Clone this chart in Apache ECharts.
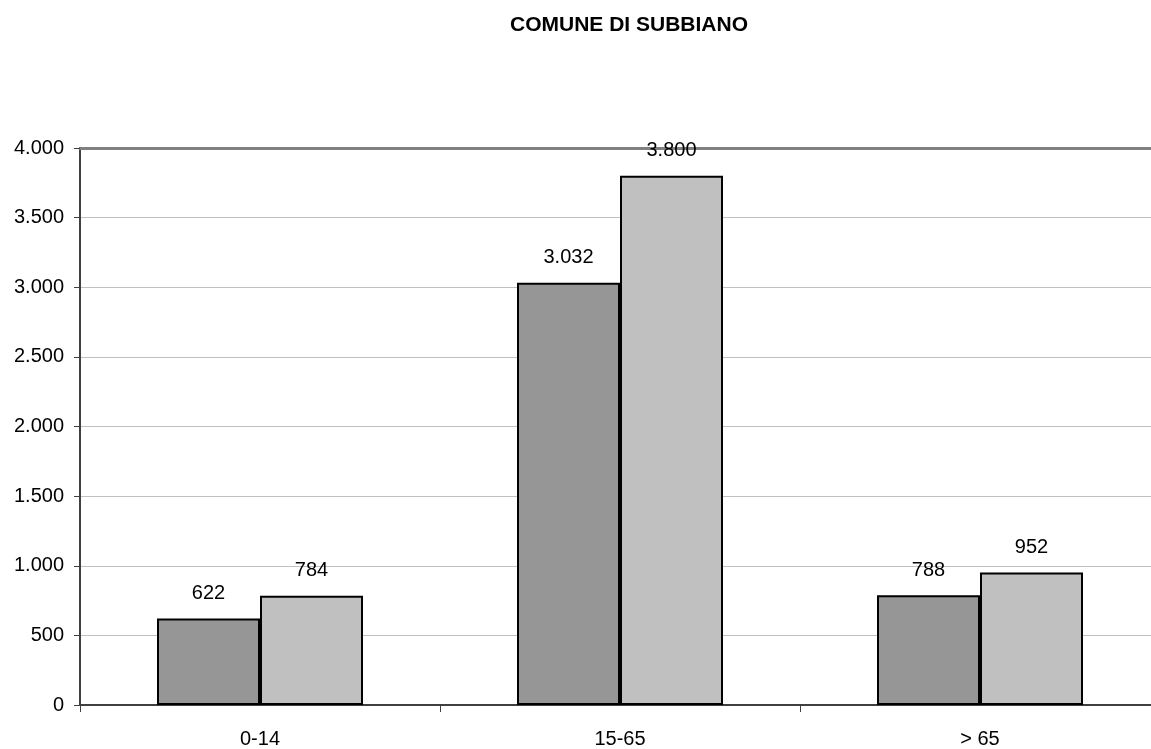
<!DOCTYPE html>
<html>
<head>
<meta charset="utf-8">
<script src="https://cdn.jsdelivr.net/npm/echarts@6/dist/echarts.min.js"></script>
<style>
  html, body { margin: 0; padding: 0; background: #fff; overflow: hidden; width: 1151px; height: 749px; }
  /* the plot runs slightly past the right edge of the window */
  #chart { width: 1160px; height: 749px; }
</style>
</head>
<body>
<div id="chart"></div>
<script>
// Popolazione per fasce d'età
const title = 'COMUNE DI SUBBIANO';
const categories = ['0-14', '15-65', '> 65'];
const seriesA = [622, 3032, 788];
const seriesB = [784, 3800, 952];
const yTicks = [0, 500, 1000, 1500, 2000, 2500, 3000, 3500, 4000];

const FONT = 'Liberation Sans, Arial, sans-serif';

// separatore delle migliaia con il punto
function fmt(v) {
  return String(v).replace(/\B(?=(\d{3})+(?!\d))/g, '.');
}

const chart = echarts.init(document.getElementById('chart'), null, { renderer: 'canvas' });

const barLabel = {
  show: true,
  position: 'top',
  distance: 15,
  color: '#000',
  fontFamily: FONT,
  fontSize: 20,
  formatter: p => fmt(p.value)
};

chart.setOption({
  animation: false,
  backgroundColor: '#fff',
  title: {
    text: title,
    left: 505,
    top: 10,
    textStyle: { fontFamily: FONT, fontSize: 21, fontWeight: 'bold', color: '#000' }
  },
  grid: { left: 80, top: 148, right: 0, bottom: 43, containLabel: false },
  xAxis: [{
    type: 'category',
    data: categories,
    position: 'bottom',
    axisLine: { lineStyle: { color: '#404040', width: 2 } },
    axisTick: { show: true, length: 7, alignWithLabel: false, lineStyle: { color: '#404040', width: 1 } },
    axisLabel: { margin: 24, color: '#000', fontFamily: FONT, fontSize: 20 },
    splitLine: { show: false }
  }, {
    type: 'category',
    data: categories,
    position: 'top',
    axisLine: { lineStyle: { color: '#808080', width: 3 } },
    axisTick: { show: false },
    axisLabel: { show: false }
  }],
  yAxis: {
    type: 'value',
    min: yTicks[0],
    max: yTicks[yTicks.length - 1],
    interval: yTicks[1] - yTicks[0],
    axisLine: { show: true, lineStyle: { color: '#404040', width: 2 } },
    axisTick: { show: true, length: 6, lineStyle: { color: '#404040', width: 1 } },
    axisLabel: { margin: 16, color: '#000', fontFamily: FONT, fontSize: 20, formatter: v => fmt(v) },
    splitLine: { show: true, lineStyle: { color: '#c0c0c0', width: 1 } }
  },
  series: [{
    name: 'Serie 1',
    type: 'bar',
    xAxisIndex: 0,
    data: seriesA,
    barWidth: 103,
    barGap: '0%',
    itemStyle: { color: '#969696', borderColor: '#000', borderWidth: 2 },
    label: barLabel
  }, {
    name: 'Serie 2',
    type: 'bar',
    xAxisIndex: 0,
    data: seriesB,
    barWidth: 103,
    barGap: '0%',
    itemStyle: { color: '#c0c0c0', borderColor: '#000', borderWidth: 2 },
    label: barLabel
  }]
});
</script>
</body>
</html>
